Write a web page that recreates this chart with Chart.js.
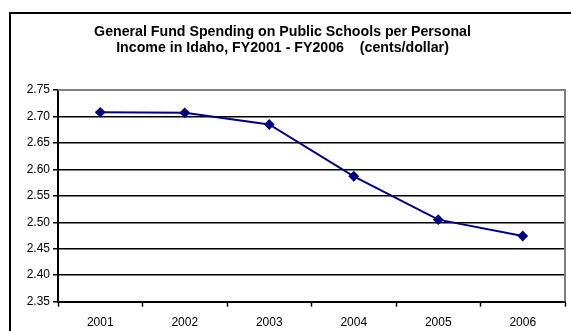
<!DOCTYPE html>
<html>
<head>
<meta charset="utf-8">
<script src="https://cdn.jsdelivr.net/npm/chart.js@4.4.1/dist/chart.umd.min.js"></script>
<style>
  html, body { margin: 0; padding: 0; background: #fff; overflow: hidden; }
  #wrap { position: relative; width: 571px; height: 331px; }
  #frame { position: absolute; left: 9px; top: 12px; width: 600px; height: 400px; border: 2px solid #000; box-sizing: border-box; }
  canvas { position: absolute; left: 0; top: 0; }
</style>
</head>
<body>
<div id="wrap">
  <div id="frame"></div>
  <canvas id="chart" width="571" height="331"></canvas>
</div>
<script>
// values
const years = ['2001', '2002', '2003', '2004', '2005', '2006'];
const centsPerDollar = [2.708, 2.707, 2.685, 2.587, 2.505, 2.474];
const titleLines = ['General Fund Spending on Public Schools per Personal', 'Income in Idaho, FY2001 - FY2006    (cents/dollar)'];
const yMin = 2.35, yMax = 2.75, yStep = 0.05;

// gray border on top and right of the plot, like the spreadsheet chart
const plotBorder = {
    id: 'plotBorder',
    afterDatasetsDraw(chart) {
        const a = chart.chartArea;
        const ctx = chart.ctx;
        ctx.save();
        ctx.strokeStyle = '#808080';
        ctx.lineWidth = 2;
        ctx.beginPath();
        ctx.moveTo(a.left, a.top);
        ctx.lineTo(a.right, a.top);
        ctx.lineTo(a.right, a.bottom);
        ctx.stroke();
        ctx.restore();
    }
};

const font = "'Liberation Sans', Arial, sans-serif";

new Chart(document.getElementById('chart'), {
    type: 'line',
    data: {
        labels: years,
        datasets: [{
            data: centsPerDollar,
            borderColor: '#000080',
            backgroundColor: '#000080',
            borderWidth: 2,
            pointStyle: 'rectRot',
            pointRadius: 4,
            pointHoverRadius: 4,
            tension: 0
        }]
    },
    options: {
        responsive: false,
        animation: false,
        layout: { padding: { left: 0, right: 6, top: 0, bottom: -8 } },
        plugins: {
            legend: { display: false },
            tooltip: { enabled: false },
            title: {
                display: true,
                text: titleLines,
                color: '#000',
                font: { family: font, size: 14.2, weight: 'bold', lineHeight: 1.13 },
                padding: { top: 24, bottom: 34 }
            }
        },
        scales: {
            x: {
                offset: true,
                grid: {
                    offset: true,
                    drawOnChartArea: false,
                    color: '#000',
                    tickLength: 5,
                    tickWidth: 1.5
                },
                border: { color: '#000', width: 2 },
                ticks: { color: '#000', font: { family: font, size: 12 }, padding: 9, maxRotation: 0 }
            },
            y: {
                min: yMin,
                max: yMax,
                afterFit: s => { s.width = 58; },
                grid: { color: '#000', lineWidth: 1.5, tickLength: 5 },
                border: { color: '#000', width: 2 },
                ticks: {
                    stepSize: yStep,
                    color: '#000',
                    font: { family: font, size: 12 },
                    padding: 3,
                    callback: v => v.toFixed(2)
                }
            }
        }
    },
    plugins: [plotBorder]
});
</script>
</body>
</html>
